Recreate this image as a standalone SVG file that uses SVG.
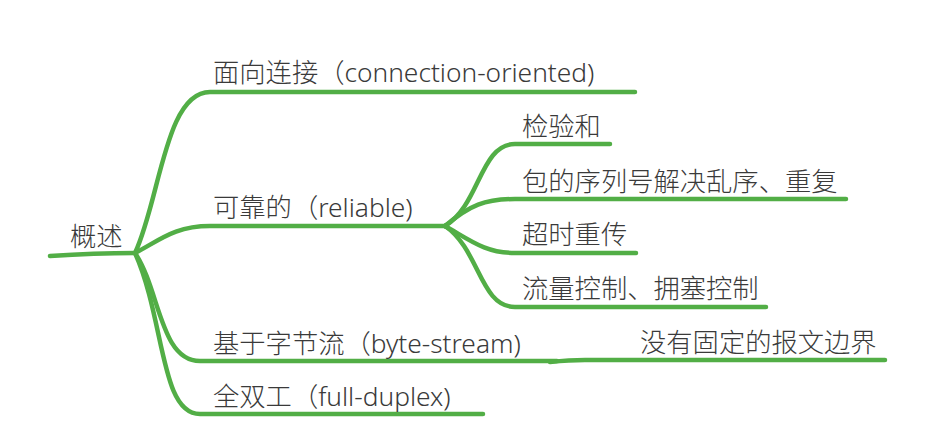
<svg xmlns="http://www.w3.org/2000/svg" width="935" height="436" viewBox="0 0 935 436">
<style>
.t{font-family:"Noto Sans","Noto Sans CJK SC",sans-serif;font-size:26.3px;font-weight:300;fill:#3a3a3a;}
.c{fill:none;stroke:#52ae46;stroke-width:4.5;stroke-linecap:round;stroke-linejoin:round;}
</style>
<rect width="935" height="436" fill="#fff"/>
<g id="connectors">
<path class="c" d="M50,256 C80,254 110,253 135,253"/>
<path class="c" d="M135,253 C160,200 165,92 210,92 L635,92"/>
<path class="c" d="M135,253 C160,240 175,226 210,226 L445,226"/>
<path class="c" d="M135,253 C160,290 160,361 200,361 L557,361"/>
<path class="c" d="M135,253 C165,320 160,414 200,414 L483,414"/>
<path class="c" d="M445,226 C480,205 480,144 515,144 L610,144"/>
<path class="c" d="M445,226 C470,205 485,199 515,199 L846,199"/>
<path class="c" d="M445,226 C470,240 485,253 515,253 L636,253"/>
<path class="c" d="M445,226 C480,250 480,307 515,307 L766,307"/>
<path class="c" d="M550,362 C560,361 570,360 585,360 L885,360"/>
</g>
<g id="root"><text class="t" x="70" y="246">概述</text></g>
<g id="n1"><text class="t" x="213" y="82">面向连接（connection-oriented)</text></g>
<g id="n2"><text class="t" x="213" y="217">可靠的（reliable)</text></g>
<g id="n2a"><text class="t" x="522" y="136">检验和</text></g>
<g id="n2b"><text class="t" x="522" y="191">包的序列号解决乱序、重复</text></g>
<g id="n2c"><text class="t" x="522" y="244">超时重传</text></g>
<g id="n2d"><text class="t" x="522" y="298">流量控制、拥塞控制</text></g>
<g id="n3"><text class="t" x="213" y="353">基于字节流（byte-stream)</text></g>
<g id="n3a"><text class="t" x="640" y="352">没有固定的报文边界</text></g>
<g id="n4"><text class="t" x="213" y="406">全双工（full-duplex)</text></g>
</svg>
